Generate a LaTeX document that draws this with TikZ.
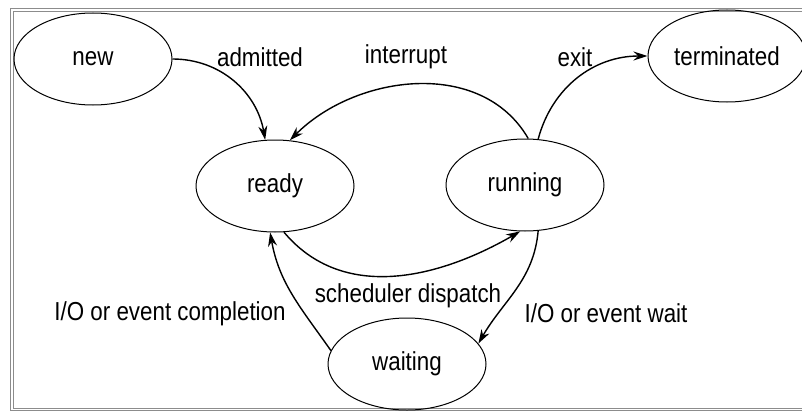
\documentclass[tikz,border=0pt]{standalone}
\usepackage{fontspec}
\setmainfont{Liberation Sans}[FakeStretch=0.86]
\usetikzlibrary{shapes.geometric,arrows.meta}
\begin{document}
\begin{tikzpicture}[x=1pt,y=1pt,
  state/.style={draw, ellipse, line width=1pt, minimum width=158pt, minimum height=92pt, inner sep=0pt, font=\fontsize{26}{28}\selectfont},
  lbl/.style={font=\fontsize{26}{28}\selectfont, inner sep=0pt},
  frameline/.style={draw=black!45, line width=0.9pt},
  conn/.style={line width=1.4pt, -{Stealth[length=14pt,width=9pt]}}]
\useasboundingbox (0,0) rectangle (802,-412);
\path[frameline] (10,-8) rectangle (812,-410.5);
\path[frameline] (13,-11) rectangle (812,-408);
\node[state] (new) at (93,-59) {new};
\node[state] (ready) at (275,-186) {ready};
\node[state] (running) at (525,-185) {running};
\node[state] (term) at (727,-56) {terminated};
\node[state] (waiting) at (407,-364) {waiting};
\node[lbl] (ladm) at (260,-57) {admitted};
\node[lbl] (lint) at (406,-57) {interrupt};
\node[lbl] (lexit) at (575,-57) {exit};
\node[lbl] (lsch) at (408,-296) {scheduler dispatch};
\node[lbl] (lcomp) at (170,-314) {I/O or event completion};
\node[lbl] (lwait) at (606,-313) {I/O or event wait};
\draw[conn] (new.east) to[out=0,in=100] (ready.102);
\draw[conn] (running.86) to[out=120,in=45] (ready.72);
\draw[conn] (running.74) to[out=75,in=180] (term.west);
\draw[conn] (ready.-79) to[out=-50,in=-150] (running.-96);
\draw[conn] (running.-74) to[out=-95,in=60] (waiting.16);
\draw[conn] (waiting.170) to[out=125,in=-80] (ready.-96);
\end{tikzpicture}
\end{document}
